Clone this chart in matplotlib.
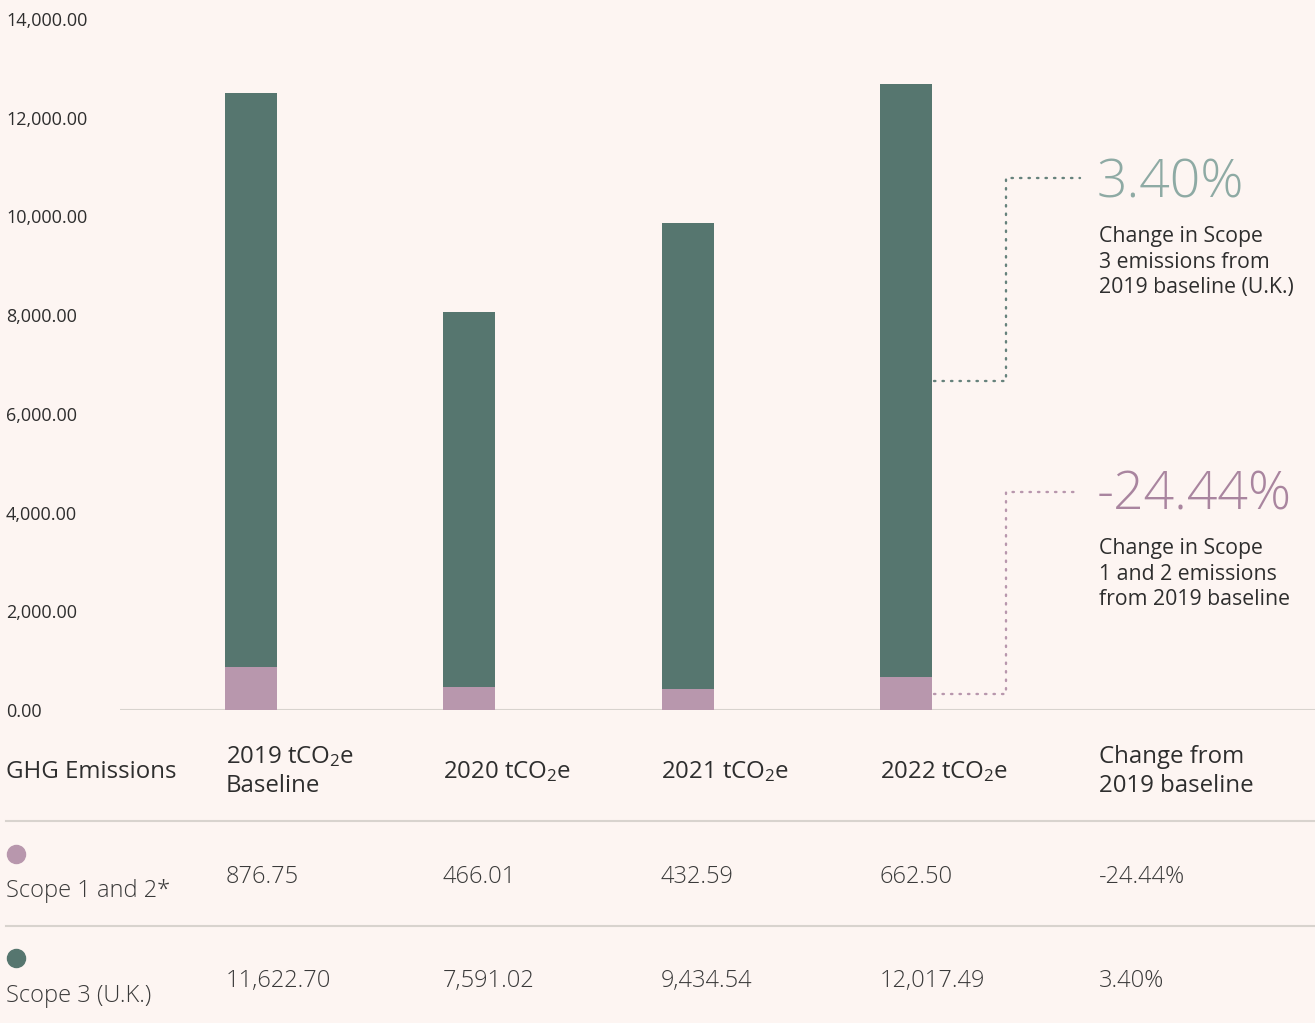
import matplotlib.pyplot as plt
from matplotlib.lines import Line2D
from matplotlib.transforms import blended_transform_factory

plt.rcParams['font.family'] = ['Open Sans', 'DejaVu Sans']
plt.rcParams['mathtext.fontset'] = 'custom'
plt.rcParams['mathtext.rm'] = 'Open Sans'
plt.rcParams['mathtext.it'] = 'Open Sans'

years = ['2019', '2020', '2021', '2022']
scope12 = [876.75, 466.01, 432.59, 662.50]
scope3 = [11622.70, 7591.02, 9434.54, 12017.49]
scope12_labels = ['876.75', '466.01', '432.59', '662.50', '-24.44%']
scope3_labels = ['11,622.70', '7,591.02', '9,434.54', '12,017.49', '3.40%']
yticks = [0, 2000, 4000, 6000, 8000, 10000, 12000, 14000]

BG = '#fdf5f2'
TEAL = '#56766f'
MAUVE = '#b897ad'
TEAL_LIGHT = '#8eaaa4'
MAUVE_LIGHT = '#a9859f'
TXT = '#2e2e2e'
GRID = '#d8d3ce'

W, H = 1315, 1023
fig = plt.figure(figsize=(W / 100, H / 100), dpi=100, facecolor=BG)


def fx(px):
    return px / W


def fy(py):
    return 1 - py / H


ax = fig.add_axes([fx(120), fy(710), 1 - fx(120), fy(19) - fy(710)])
ax.set_facecolor(BG)
ax.patch.set_alpha(0)
for s in ax.spines.values():
    s.set_visible(False)
ax.set_xticks([])
ax.set_yticks([])

x = list(range(len(years)))
bw = 0.238
ax.bar(x, scope12, width=bw, color=MAUVE, zorder=2)
ax.bar(x, scope3, width=bw, bottom=scope12, color=TEAL, zorder=2)
ax.set_xlim(-0.6, 4.874)
ax.set_ylim(0, 14000)
ax.axhline(0, color=GRID, lw=1.5, zorder=1)

# y tick labels, left aligned at figure edge
tr = blended_transform_factory(fig.transFigure, ax.transData)
for v in yticks:
    ax.text(fx(6), v, f'{v:,.2f}', transform=tr, ha='left', va='center_baseline',
            fontsize=13, color=TXT, clip_on=False)

# connectors
dot = dict(lw=1.7, linestyle=(0, (0.6, 3.0)), dash_capstyle='round', clip_on=False)
i = 3
mid3 = scope12[i] + scope3[i] / 2
ax.plot([i + bw / 2 + 0.01, 3.459, 3.459, 3.798], [mid3, mid3, 10780, 10780],
        color=TEAL, alpha=0.9, **dot)
mid12 = scope12[i] / 2
ax.plot([i + bw / 2 + 0.01, 3.459, 3.459, 3.798], [mid12, mid12, 4410, 4410],
        color=MAUVE, **dot)

fig.text(fx(1097), fy(177), scope3_labels[-1], fontsize=38.5, fontweight='light',
         color=TEAL_LIGHT, ha='left', va='center_baseline')
fig.text(fx(1099), fy(226), 'Change in Scope\n3 emissions from\n2019 baseline (U.K.)',
         fontsize=15.3, color=TXT, ha='left', va='top', linespacing=1.29)
fig.text(fx(1097), fy(489), scope12_labels[-1], fontsize=38.5, fontweight='light',
         color=MAUVE_LIGHT, ha='left', va='center_baseline')
fig.text(fx(1099), fy(538), 'Change in Scope\n1 and 2 emissions\nfrom 2019 baseline',
         fontsize=15.3, color=TXT, ha='left', va='top', linespacing=1.29)

# table
cols = [6, 226, 443, 661, 880, 1099]
hdr = dict(fontsize=17.3, color=TXT, ha='left', va='center_baseline')
fig.text(fx(cols[0]), fy(769), 'GHG Emissions', **hdr)
fig.text(fx(cols[1]), fy(754), years[0] + r' tCO$_2$e', **hdr)
fig.text(fx(cols[1]), fy(783), 'Baseline', **hdr)
for k in range(1, 4):
    fig.text(fx(cols[k + 1]), fy(769), years[k] + r' tCO$_2$e', **hdr)
fig.text(fx(cols[5]), fy(754), 'Change from', **hdr)
fig.text(fx(cols[5]), fy(783), '2019 baseline', **hdr)

for py in [821, 926]:
    fig.add_artist(Line2D([fx(6), 1], [fy(py), fy(py)], color=GRID, lw=1.5))

val = dict(fontsize=17, fontweight='light', color='#3a3a3a', ha='left', va='center_baseline')
rows = [('Scope 1 and 2*', MAUVE, scope12_labels, 854, 888, 874),
        ('Scope 3 (U.K.)', TEAL, scope3_labels, 958, 993, 978)]
for name, col, labels, ydot, yname, yval in rows:
    fig.add_artist(Line2D([fx(16)], [fy(ydot)], marker='o', markersize=13,
                          color=col, linestyle='none'))
    fig.text(fx(cols[0]), fy(yname), name, **val)
    for k, lab in enumerate(labels):
        fig.text(fx(cols[k + 1]), fy(yval), lab, **val)

fig.savefig('out.png', dpi=100, facecolor=BG)
